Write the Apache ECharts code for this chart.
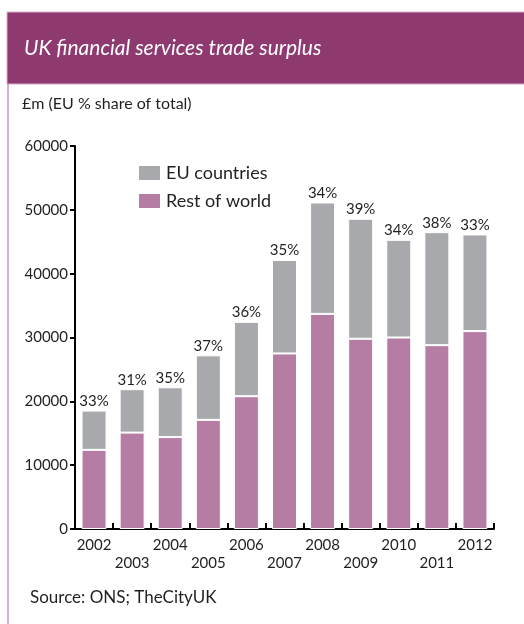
<!DOCTYPE html>
<html>
<head>
<meta charset="utf-8">
<style>
  html, body { margin: 0; padding: 0; background: #ffffff; }
  #chart { width: 524px; height: 624px; }
</style>
<script src="https://cdn.jsdelivr.net/npm/echarts@6/dist/echarts.min.js"></script>
</head>
<body>
<div id="chart"></div>
<script>
// UK financial services trade surplus, £m, split by destination
const years = ['2002', '2003', '2004', '2005', '2006', '2007', '2008', '2009', '2010', '2011', '2012'];
const restOfWorld = [12400, 15100, 14400, 17100, 20800, 27500, 33700, 29800, 30000, 28800, 31000];
const euCountries = [6150, 6800, 7800, 10100, 11650, 14650, 17450, 18800, 15300, 17700, 15150];
// EU share of the total surplus, as printed above each bar
const euShare = ['33%', '31%', '35%', '37%', '36%', '35%', '34%', '39%', '34%', '38%', '33%'];
const yTicks = [0, 10000, 20000, 30000, 40000, 50000, 60000];

const FONT = 'Lato, "Liberation Sans", sans-serif';
const INK = '#231f20';
const PLUM = '#8e3a71';

const chart = echarts.init(document.getElementById('chart'), null, { renderer: 'canvas' });

chart.setOption({
  animation: false,
  backgroundColor: '#ffffff',
  textStyle: { fontFamily: FONT, color: INK },
  graphic: [
    // title band
    { type: 'rect', shape: { x: 7, y: 12, width: 520, height: 72 },
      style: { fill: PLUM, stroke: '#d6afc8', lineWidth: 1 }, z: 0 },
    { type: 'text', left: 24, top: 38,
      style: { text: 'UK financial services trade surplus', fill: '#ffffff',
               font: 'italic 21px ' + FONT }, z: 1 },
    // panel border on the left
    { type: 'line', shape: { x1: 8, y1: 84, x2: 8, y2: 624 },
      style: { stroke: '#c992b9', lineWidth: 1.5 }, z: 0 },
    { type: 'text', left: 22, top: 96,
      style: { text: '£m (EU % share of total)', fill: INK, font: '16px ' + FONT } },
    { type: 'text', left: 30, top: 589,
      style: { text: 'Source: ONS; TheCityUK', fill: INK, font: '17px ' + FONT } }
  ],
  legend: {
    data: ['EU countries', 'Rest of world'],
    orient: 'vertical',
    left: 137,
    top: 164,
    padding: 0,
    itemWidth: 23,
    itemHeight: 16,
    itemGap: 10,
    icon: 'rect',
    textStyle: { fontFamily: FONT, fontSize: 18, color: INK }
  },
  grid: { left: 75, right: 30, top: 146, bottom: 95, containLabel: false },
  xAxis: {
    type: 'category',
    data: years,
    axisLine: { show: true, lineStyle: { color: '#000', width: 2 } },
    axisTick: { show: true, inside: true, length: 6, lineStyle: { color: '#000', width: 2 } },
    axisLabel: {
      interval: 0,
      margin: 7,
      fontFamily: FONT,
      fontSize: 15,
      color: INK,
      lineHeight: 18,
      formatter: (v, i) => (i % 2 ? '\n' + v : v)
    }
  },
  yAxis: {
    type: 'value',
    min: yTicks[0],
    max: yTicks[yTicks.length - 1],
    interval: yTicks[1] - yTicks[0],
    splitLine: { show: false },
    axisLine: { show: true, lineStyle: { color: '#000', width: 2 } },
    axisTick: { show: true, length: 5, lineStyle: { color: '#000', width: 2 } },
    axisLabel: { margin: 7, fontFamily: FONT, fontSize: 15, color: INK, formatter: v => String(v) }
  },
  series: [
    {
      name: 'Rest of world',
      type: 'bar',
      stack: 'total',
      barWidth: 25,
      data: restOfWorld,
      itemStyle: { color: '#b57da4', borderColor: '#ffffff', borderWidth: 1 }
    },
    {
      name: 'EU countries',
      type: 'bar',
      stack: 'total',
      barWidth: 25,
      data: euCountries,
      itemStyle: { color: '#a7a9ac', borderColor: '#ffffff', borderWidth: 1 },
      label: {
        show: true,
        position: 'top',
        distance: 2,
        fontFamily: FONT,
        fontSize: 15,
        color: INK,
        formatter: p => euShare[p.dataIndex]
      }
    }
  ]
});
</script>
</body>
</html>
